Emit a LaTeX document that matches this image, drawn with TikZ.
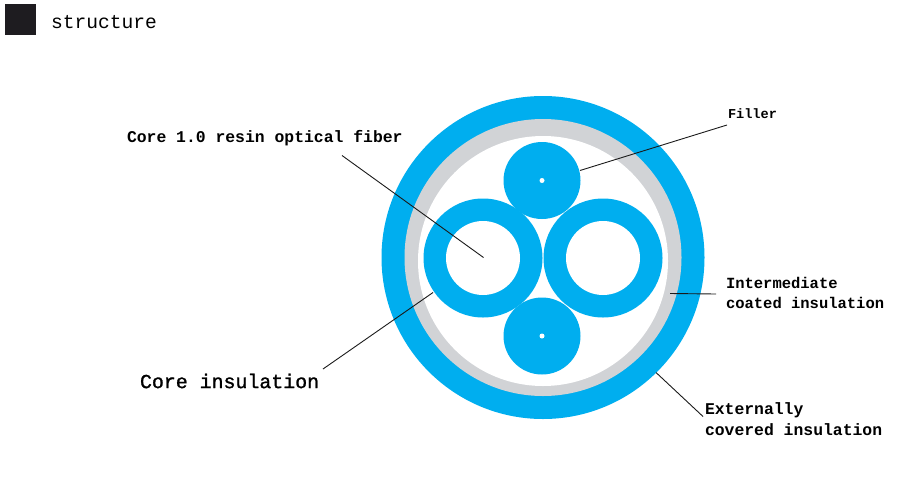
\documentclass[tikz,border=0pt]{standalone}
\usepackage{fontspec}
\setmonofont{Liberation Mono}
\newfontfamily\medmono[FakeBold=1.2]{Liberation Mono}
\definecolor{cableblue}{HTML}{00AEEF}
\definecolor{coatgray}{HTML}{D1D3D6}
\definecolor{squaredark}{HTML}{1E1C20}
\definecolor{leaderdark}{HTML}{1A1A1A}
\tikzset{
  disc/.style={circle,inner sep=0pt,outer sep=0pt,minimum size=#1},
  bluedisc/.style={disc=#1,fill=cableblue},
  whitedisc/.style={disc=#1,fill=white},
  graydisc/.style={disc=#1,fill=coatgray},
  label/.style={anchor=west,inner sep=0pt,outer sep=0pt,font=\ttfamily\bfseries,align=left},
  leader/.style={draw=leaderdark,line width=0.9pt}
}
\newcommand{\fsz}[1]{\fontsize{#1}{#1}\selectfont}
\begin{document}
\begin{tikzpicture}[x=1pt,y=-1pt]
\useasboundingbox (0,0) rectangle (901,477);
\node[minimum width=31pt,minimum height=31pt,inner sep=0pt,fill=squaredark] (sq) at (20.5,19.5) {};
\node[label,font=\ttfamily\fsz{19.6}] (title) at (51,22) {structure};
% cable
\node[bluedisc=323pt] (outer) at (543,257.5) {};
\node[graydisc=277pt] (coat) at (543,257.5) {};
\node[whitedisc=250pt] (inside) at (543,261) {};
\node[bluedisc=119pt] (ringL) at (483,258) {};
\node[whitedisc=74pt] (coreL) at (483,258) {};
\node[bluedisc=119pt] (ringR) at (603,258) {};
\node[whitedisc=74pt] (coreR) at (603,258) {};
\node[bluedisc=77pt] (fillT) at (542,180.5) {};
\node[whitedisc=5pt] (dotT) at (542,180.5) {};
\node[bluedisc=77pt] (fillB) at (542,336) {};
\node[whitedisc=5pt] (dotB) at (542,336) {};
% labels
\node[label,font=\ttfamily\bfseries\fsz{16.4}] (lfiber) at (127,138) {Core 1.0 resin optical fiber};
\node[label,font=\medmono\fsz{19.9}] (lcore) at (140,381) {Core insulation};
\node[label,font=\ttfamily\bfseries\fsz{13.6}] (lfill) at (728,114) {Filler};
\node[label,font=\ttfamily\bfseries\fontsize{15.5}{20}\selectfont] (lmid) at (726,293) {Intermediate\\coated insulation};
\node[label,font=\ttfamily\bfseries\fontsize{16.4}{21.5}\selectfont] (lext) at (705,419) {Externally\\covered insulation};
% leaders
\coordinate (a1) at (342,155.5);
\coordinate (a2) at (483.5,257.5);
\coordinate (b1) at (323,369);
\coordinate (b2) at (433,292.5);
\coordinate (c1) at (727,125);
\coordinate (c2) at (580,170.5);
\coordinate (d1) at (716,294);
\coordinate (d2) at (670,293.5);
\coordinate (e1) at (703,416.5);
\coordinate (e2) at (656,372.5);
\draw[leader] (a1) -- (a2);
\draw[leader] (b1) -- (b2);
\draw[leader] (c1) -- (c2);
\draw[leader] (d1) -- (d2);
\draw[leader] (e1) -- (e2);
\end{tikzpicture}
\end{document}
